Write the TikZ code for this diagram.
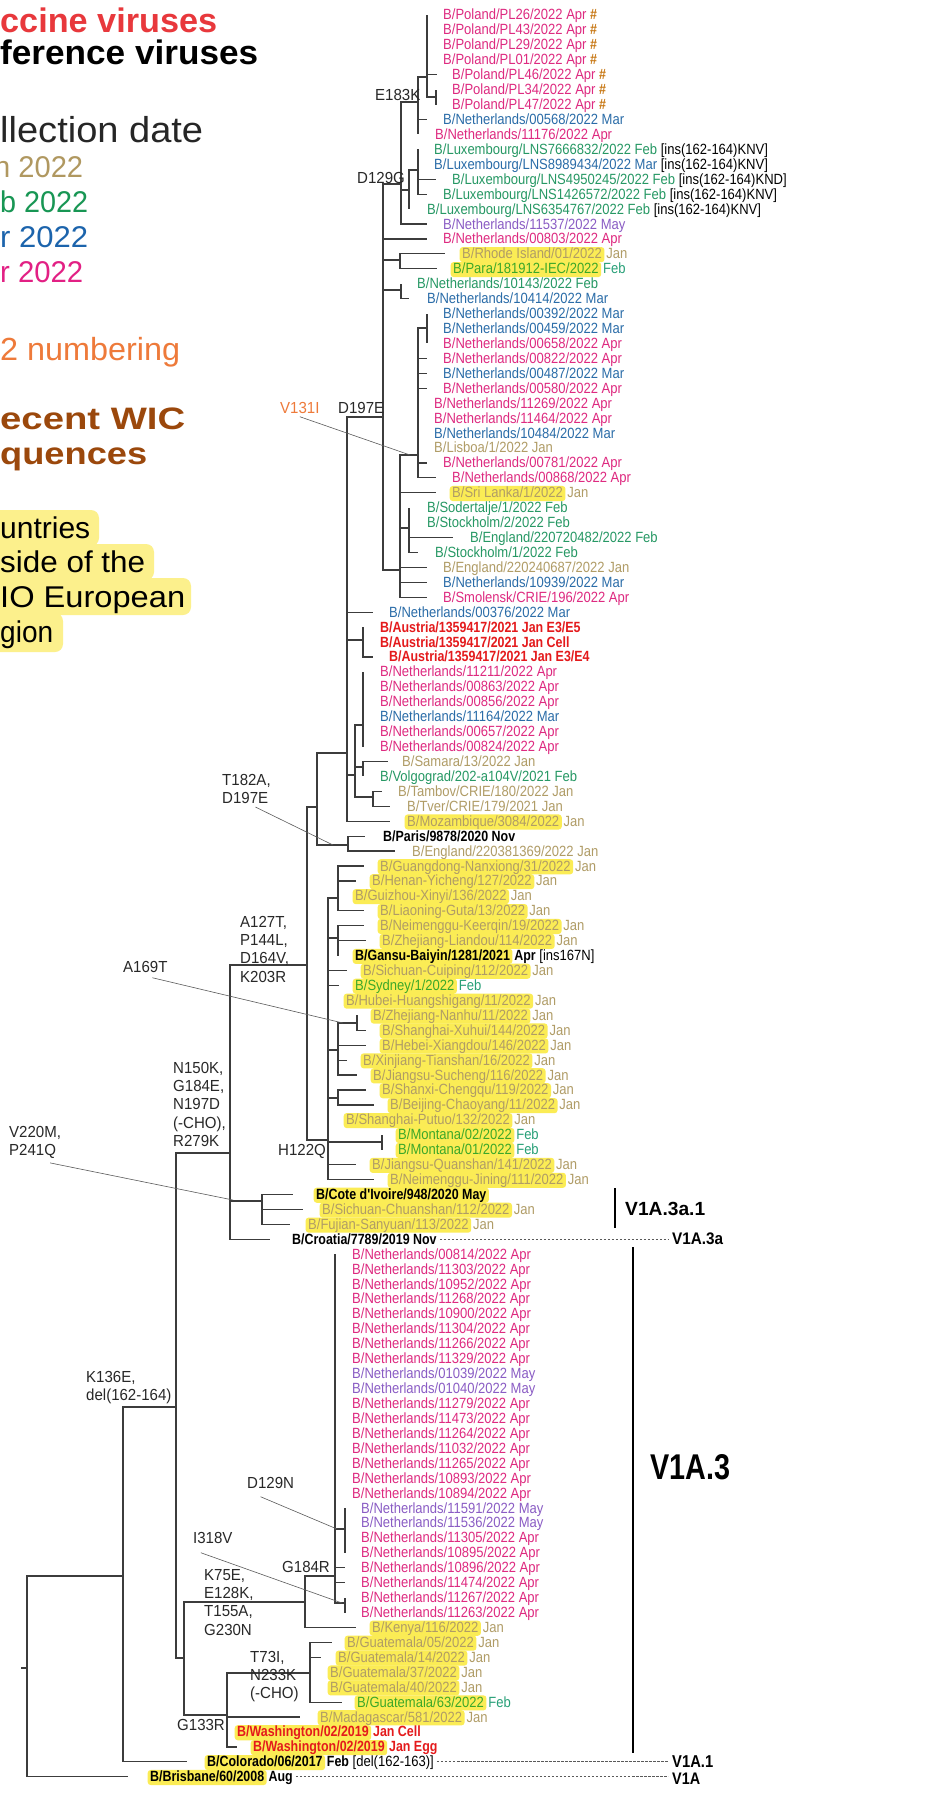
\documentclass[tikz,border=0pt]{standalone}
\usepackage{fontspec}
\usepackage{graphicx}
\setmainfont{Liberation Sans}
\newfontfamily\labfam[FakeStretch=0.88,BoldFeatures={FakeStretch=0.84}]{Liberation Sans}
\newfontfamily\mutfam[FakeStretch=0.94]{Liberation Sans}
\newcommand\lf{\labfam\fontsize{14.8}{15}\selectfont}
\newcommand\mf{\mutfam\fontsize{16}{18.3}\selectfont}
\definecolor{capr}{RGB}{222,42,128}
\definecolor{cmar}{RGB}{42,108,168}
\definecolor{cfeb}{RGB}{38,152,100}
\definecolor{cjan}{RGB}{176,156,102}
\definecolor{cmay}{RGB}{138,92,196}
\definecolor{cvac}{RGB}{228,26,28}
\definecolor{cgrn}{RGB}{60,168,40}
\definecolor{cteal}{RGB}{40,160,120}
\definecolor{hlc}{RGB}{251,236,85}
\definecolor{leghl}{RGB}{252,240,140}
\definecolor{hashc}{RGB}{200,120,20}
\definecolor{brc}{RGB}{60,60,60}
\definecolor{mutc}{RGB}{40,40,40}
\definecolor{ptrc}{RGB}{90,90,90}
\definecolor{orn}{RGB}{238,122,58}
\definecolor{legred}{RGB}{232,56,60}
\definecolor{legbrown}{RGB}{155,72,12}
\definecolor{legtan}{RGB}{176,152,96}
\definecolor{leggreen}{RGB}{24,150,84}
\definecolor{legblue}{RGB}{28,100,172}
\definecolor{legpink}{RGB}{226,32,132}
\newcommand\hash{{\bfseries\color{hashc}\#}}
\newcommand\ins[1]{{\color{black}[ins(162-164)#1]}}
% leaf: row, tip x, label x, colour, text
\newcommand\leaf[5]{%
  \coordinate (t#1) at ({#2},{15+(#1-1)*14.93});
  \node[lab,text=#4] (L#1) at ({#3},{20+(#1-1)*14.93}) {#5};}
% highlighted leaf: row, tip x, label x, name colour, name, suffix colour, suffix
\newcommand\hleaf[7]{%
  \coordinate (t#1) at ({#2},{15+(#1-1)*14.93});
  \node[hln,text=#4] (L#1) at ({#3-2.5},{20+(#1-1)*14.93}) {#5};
  \node[lab,text=#6] (S#1) at ([xshift=1.5pt]L#1.base east) {#7};}
\begin{document}
\begin{tikzpicture}[x=1pt,y=-1pt,
  branch/.style={line width=1.2pt, draw=brc},
  lab/.style={anchor=base west, inner sep=0pt, font=\lf},
  hln/.style={lab, fill=hlc, rounded corners=3pt, inner xsep=2.5pt, inner ysep=0pt, text height=11.8pt, text depth=3.3pt},
  mut/.style={anchor=north west, inner sep=0pt, font=\mf, align=left, text=mutc},
  ptr/.style={line width=0.6pt, draw=ptrc},
  dash line/.style={draw=black!65, line width=0.7pt, dash pattern=on 2.5pt off 1.5pt},
  cladebar/.style={line width=1.6pt, draw=black},
  clade/.style={anchor=base west, inner sep=0pt, text=black},
  leg/.style={anchor=base west, inner sep=0pt}]
\useasboundingbox (0,0) rectangle (946,1798);
\fill[white] (0,0) rectangle (946,1798);
\clip (0,0) rectangle (946,1798);

% ---------------- legend ----------------
\fill[leghl, rounded corners=8pt] (-12,510) rectangle (99,546);
\fill[leghl, rounded corners=8pt] (-12,544) rectangle (154,580);
\fill[leghl, rounded corners=8pt] (-12,578) rectangle (191,615);
\fill[leghl, rounded corners=8pt] (-12,613) rectangle (63,652);
\node[leg,text=legred] (lg1) at (0,33) {\resizebox{217pt}{\height}{\fontsize{34}{34}\selectfont\bfseries ccine viruses}};
\node[leg,text=black] (lg2) at (0,65) {\resizebox{258pt}{\height}{\fontsize{34}{34}\selectfont\bfseries ference viruses}};
\node[leg,text=black!85] (lg3) at (0,143) {\resizebox{203pt}{\height}{\fontsize{36}{36}\selectfont llection date}};
\node[leg,text=legtan] (lg4) at (-6,178) {\resizebox{89pt}{\height}{\fontsize{30}{30}\selectfont n 2022}};
\node[leg,text=leggreen] (lg5) at (0,212) {\resizebox{88pt}{\height}{\fontsize{30}{30}\selectfont b 2022}};
\node[leg,text=legblue] (lg6) at (0,247) {\resizebox{88pt}{\height}{\fontsize{30}{30}\selectfont r 2022}};
\node[leg,text=legpink] (lg7) at (0,282) {\resizebox{83pt}{\height}{\fontsize{30}{30}\selectfont r 2022}};
\node[leg,text=orn] (lg8) at (0,360) {\resizebox{180pt}{\height}{\fontsize{32}{32}\selectfont 2 numbering}};
\node[leg,text=legbrown] (lg9) at (0,429) {\resizebox{185pt}{\height}{\fontsize{31}{31}\selectfont\bfseries ecent WIC}};
\node[leg,text=legbrown] (lg10) at (0,464) {\resizebox{147pt}{\height}{\fontsize{31}{31}\selectfont\bfseries quences}};
\node[leg] (lg11) at (0,538) {\resizebox{90pt}{\height}{\fontsize{30}{30}\selectfont untries}};
\node[leg] (lg12) at (0,572) {\resizebox{145pt}{\height}{\fontsize{30}{30}\selectfont side of the}};
\node[leg] (lg13) at (0,607) {\resizebox{185pt}{\height}{\fontsize{30}{30}\selectfont IO European}};
\node[leg] (lg14) at (0,642) {\resizebox{53pt}{\height}{\fontsize{30}{30}\selectfont gion}};

% ---------------- leaves ----------------
\leaf{1}{427}{443}{capr}{B/Poland/PL26/2022 Apr \hash}
\leaf{2}{427}{443}{capr}{B/Poland/PL43/2022 Apr \hash}
\leaf{3}{427}{443}{capr}{B/Poland/PL29/2022 Apr \hash}
\leaf{4}{427}{443}{capr}{B/Poland/PL01/2022 Apr \hash}
\leaf{5}{437}{452}{capr}{B/Poland/PL46/2022 Apr \hash}
\leaf{6}{436}{452}{capr}{B/Poland/PL34/2022 Apr \hash}
\leaf{7}{436}{452}{capr}{B/Poland/PL47/2022 Apr \hash}
\leaf{8}{427}{443}{cmar}{B/Netherlands/00568/2022 Mar}
\leaf{9}{418}{435}{capr}{B/Netherlands/11176/2022 Apr}
\leaf{10}{418}{434}{cfeb}{B/Luxembourg/LNS7666832/2022 Feb \ins{KNV}}
\leaf{11}{418}{434}{cmar}{B/Luxembourg/LNS8989434/2022 Mar \ins{KNV}}
\leaf{12}{436}{452}{cfeb}{B/Luxembourg/LNS4950245/2022 Feb \ins{KND}}
\leaf{13}{427}{443}{cfeb}{B/Luxembourg/LNS1426572/2022 Feb \ins{KNV}}
\leaf{14}{409}{427}{cfeb}{B/Luxembourg/LNS6354767/2022 Feb \ins{KNV}}
\leaf{15}{427}{443}{cmay}{B/Netherlands/11537/2022 May}
\leaf{16}{427}{443}{capr}{B/Netherlands/00803/2022 Apr}
\hleaf{17}{445}{462}{cjan}{B/Rhode Island/01/2022}{cjan}{Jan}
\hleaf{18}{437}{453}{cgrn}{B/Para/181912-IEC/2022}{cteal}{Feb}
\leaf{19}{401}{417}{cfeb}{B/Netherlands/10143/2022 Feb}
\leaf{20}{409}{427}{cmar}{B/Netherlands/10414/2022 Mar}
\leaf{21}{427}{443}{cmar}{B/Netherlands/00392/2022 Mar}
\leaf{22}{427}{443}{cmar}{B/Netherlands/00459/2022 Mar}
\leaf{23}{427}{443}{capr}{B/Netherlands/00658/2022 Apr}
\leaf{24}{427}{443}{capr}{B/Netherlands/00822/2022 Apr}
\leaf{25}{427}{443}{cmar}{B/Netherlands/00487/2022 Mar}
\leaf{26}{427}{443}{capr}{B/Netherlands/00580/2022 Apr}
\leaf{27}{418}{434}{capr}{B/Netherlands/11269/2022 Apr}
\leaf{28}{418}{434}{capr}{B/Netherlands/11464/2022 Apr}
\leaf{29}{418}{434}{cmar}{B/Netherlands/10484/2022 Mar}
\leaf{30}{418}{434}{cjan}{B/Lisboa/1/2022 Jan}
\leaf{31}{427}{443}{capr}{B/Netherlands/00781/2022 Apr}
\leaf{32}{436}{452}{capr}{B/Netherlands/00868/2022 Apr}
\hleaf{33}{436}{452}{cjan}{B/Sri Lanka/1/2022}{cjan}{Jan}
\leaf{34}{409}{427}{cfeb}{B/Sodertalje/1/2022 Feb}
\leaf{35}{409}{427}{cfeb}{B/Stockholm/2/2022 Feb}
\leaf{36}{453}{470}{cfeb}{B/England/220720482/2022 Feb}
\leaf{37}{418}{435}{cfeb}{B/Stockholm/1/2022 Feb}
\leaf{38}{427}{443}{cjan}{B/England/220240687/2022 Jan}
\leaf{39}{427}{443}{cmar}{B/Netherlands/10939/2022 Mar}
\leaf{40}{427}{443}{capr}{B/Smolensk/CRIE/196/2022 Apr}
\leaf{41}{373}{389}{cmar}{B/Netherlands/00376/2022 Mar}
\leaf{42}{363}{380}{cvac}{\bfseries B/Austria/1359417/2021 Jan E3/E5}
\leaf{43}{363}{380}{cvac}{\bfseries B/Austria/1359417/2021 Jan Cell}
\leaf{44}{373}{389}{cvac}{\bfseries B/Austria/1359417/2021 Jan E3/E4}
\leaf{45}{363}{380}{capr}{B/Netherlands/11211/2022 Apr}
\leaf{46}{363}{380}{capr}{B/Netherlands/00863/2022 Apr}
\leaf{47}{363}{380}{capr}{B/Netherlands/00856/2022 Apr}
\leaf{48}{363}{380}{cmar}{B/Netherlands/11164/2022 Mar}
\leaf{49}{363}{380}{capr}{B/Netherlands/00657/2022 Apr}
\leaf{50}{363}{380}{capr}{B/Netherlands/00824/2022 Apr}
\leaf{51}{388}{402}{cjan}{B/Samara/13/2022 Jan}
\leaf{52}{363}{380}{cfeb}{B/Volgograd/202-a104V/2021 Feb}
\leaf{53}{382}{398}{cjan}{B/Tambov/CRIE/180/2022 Jan}
\leaf{54}{390}{407}{cjan}{B/Tver/CRIE/179/2021 Jan}
\hleaf{55}{390}{407}{cjan}{B/Mozambique/3084/2022}{cjan}{Jan}
\leaf{56}{365}{383}{black}{\bfseries B/Paris/9878/2020 Nov}
\leaf{57}{395}{412}{cjan}{B/England/220381369/2022 Jan}
\hleaf{58}{364}{380}{cjan}{B/Guangdong-Nanxiong/31/2022}{cjan}{Jan}
\hleaf{59}{356}{372}{cjan}{B/Henan-Yicheng/127/2022}{cjan}{Jan}
\hleaf{60}{338}{355}{cjan}{B/Guizhou-Xinyi/136/2022}{cjan}{Jan}
\hleaf{61}{364}{380}{cjan}{B/Liaoning-Guta/13/2022}{cjan}{Jan}
\hleaf{62}{364}{380}{cjan}{B/Neimenggu-Keerqin/19/2022}{cjan}{Jan}
\hleaf{63}{366}{382}{cjan}{B/Zhejiang-Liandou/114/2022}{cjan}{Jan}
\hleaf{64}{338}{355}{black}{\bfseries B/Gansu-Baiyin/1281/2021}{black}{\textbf{Apr} [ins167N]}
\hleaf{65}{347}{363}{cjan}{B/Sichuan-Cuiping/112/2022}{cjan}{Jan}
\hleaf{66}{339}{355}{cgrn}{B/Sydney/1/2022}{cteal}{Feb}
\hleaf{67}{328}{346}{cjan}{B/Hubei-Huangshigang/11/2022}{cjan}{Jan}
\hleaf{68}{357}{373}{cjan}{B/Zhejiang-Nanhu/11/2022}{cjan}{Jan}
\hleaf{69}{366}{382}{cjan}{B/Shanghai-Xuhui/144/2022}{cjan}{Jan}
\hleaf{70}{366}{382}{cjan}{B/Hebei-Xiangdou/146/2022}{cjan}{Jan}
\hleaf{71}{347}{363}{cjan}{B/Xinjiang-Tianshan/16/2022}{cjan}{Jan}
\hleaf{72}{357}{373}{cjan}{B/Jiangsu-Sucheng/116/2022}{cjan}{Jan}
\hleaf{73}{366}{382}{cjan}{B/Shanxi-Chengqu/119/2022}{cjan}{Jan}
\hleaf{74}{374}{390}{cjan}{B/Beijing-Chaoyang/11/2022}{cjan}{Jan}
\hleaf{75}{328}{346}{cjan}{B/Shanghai-Putuo/132/2022}{cjan}{Jan}
\hleaf{76}{382}{398}{cgrn}{B/Montana/02/2022}{cteal}{Feb}
\hleaf{77}{382}{398}{cgrn}{B/Montana/01/2022}{cteal}{Feb}
\hleaf{78}{356}{372}{cjan}{B/Jiangsu-Quanshan/141/2022}{cjan}{Jan}
\hleaf{79}{374}{390}{cjan}{B/Neimenggu-Jining/111/2022}{cjan}{Jan}
\hleaf{80}{293}{316}{black}{\bfseries B/Cote d'Ivoire/948/2020 May}{black}{}
\hleaf{81}{303}{322}{cjan}{B/Sichuan-Chuanshan/112/2022}{cjan}{Jan}
\hleaf{82}{290}{308}{cjan}{B/Fujian-Sanyuan/113/2022}{cjan}{Jan}
\leaf{83}{270}{292}{black}{\bfseries B/Croatia/7789/2019 Nov}
\leaf{84}{335}{352}{capr}{B/Netherlands/00814/2022 Apr}
\leaf{85}{335}{352}{capr}{B/Netherlands/11303/2022 Apr}
\leaf{86}{335}{352}{capr}{B/Netherlands/10952/2022 Apr}
\leaf{87}{335}{352}{capr}{B/Netherlands/11268/2022 Apr}
\leaf{88}{335}{352}{capr}{B/Netherlands/10900/2022 Apr}
\leaf{89}{335}{352}{capr}{B/Netherlands/11304/2022 Apr}
\leaf{90}{335}{352}{capr}{B/Netherlands/11266/2022 Apr}
\leaf{91}{335}{352}{capr}{B/Netherlands/11329/2022 Apr}
\leaf{92}{335}{352}{cmay}{B/Netherlands/01039/2022 May}
\leaf{93}{335}{352}{cmay}{B/Netherlands/01040/2022 May}
\leaf{94}{335}{352}{capr}{B/Netherlands/11279/2022 Apr}
\leaf{95}{335}{352}{capr}{B/Netherlands/11473/2022 Apr}
\leaf{96}{335}{352}{capr}{B/Netherlands/11264/2022 Apr}
\leaf{97}{335}{352}{capr}{B/Netherlands/11032/2022 Apr}
\leaf{98}{335}{352}{capr}{B/Netherlands/11265/2022 Apr}
\leaf{99}{335}{352}{capr}{B/Netherlands/10893/2022 Apr}
\leaf{100}{335}{352}{capr}{B/Netherlands/10894/2022 Apr}
\leaf{101}{345}{361}{cmay}{B/Netherlands/11591/2022 May}
\leaf{102}{345}{361}{cmay}{B/Netherlands/11536/2022 May}
\leaf{103}{345}{361}{capr}{B/Netherlands/11305/2022 Apr}
\leaf{104}{345}{361}{capr}{B/Netherlands/10895/2022 Apr}
\leaf{105}{345}{361}{capr}{B/Netherlands/10896/2022 Apr}
\leaf{106}{345}{361}{capr}{B/Netherlands/11474/2022 Apr}
\leaf{107}{345}{361}{capr}{B/Netherlands/11267/2022 Apr}
\leaf{108}{345}{361}{capr}{B/Netherlands/11263/2022 Apr}
\hleaf{109}{356}{372}{cjan}{B/Kenya/116/2022}{cjan}{Jan}
\hleaf{110}{332}{347}{cjan}{B/Guatemala/05/2022}{cjan}{Jan}
\hleaf{111}{321}{338}{cjan}{B/Guatemala/14/2022}{cjan}{Jan}
\hleaf{112}{310}{330}{cjan}{B/Guatemala/37/2022}{cjan}{Jan}
\hleaf{113}{310}{330}{cjan}{B/Guatemala/40/2022}{cjan}{Jan}
\hleaf{114}{342}{357}{cgrn}{B/Guatemala/63/2022}{cteal}{Feb}
\hleaf{115}{300}{320}{cjan}{B/Madagascar/581/2022}{cjan}{Jan}
\hleaf{116}{227}{237}{cvac}{\bfseries B/Washington/02/2019}{cvac}{\bfseries Jan Cell}
\hleaf{117}{237}{253}{cvac}{\bfseries B/Washington/02/2019}{cvac}{\bfseries Jan Egg}
\hleaf{118}{187}{207}{black}{\bfseries B/Colorado/06/2017}{black}{\textbf{Feb} [del(162-163)]}
\hleaf{119}{128}{150}{black}{\bfseries B/Brisbane/60/2008}{black}{\bfseries Aug}

% ---------------- internal nodes ----------------
\coordinate (nP1) at (427,77);
\coordinate (nP2) at (436,97);
\coordinate (nE) at (418,102);
\coordinate (nL2) at (418,170);
\coordinate (nL1) at (409,190);
\coordinate (nG) at (401,184);
\coordinate (nRP) at (400,260);
\coordinate (nNL) at (401,290);
\coordinate (nT1) at (427,328);
\coordinate (nT) at (418,455);
\coordinate (nU) at (409,528);
\coordinate (nS) at (400,570);
\coordinate (nD) at (383,417);
\coordinate (nA) at (363,640);
\coordinate (nK1) at (363,725);
\coordinate (nK2) at (363,767);
\coordinate (nK3) at (373,797);
\coordinate (nK) at (355,775);
\coordinate (nM) at (347,753);
\coordinate (nPA) at (348,845);
\coordinate (nQ) at (317,807);
\coordinate (nC1) at (338,898);
\coordinate (nC2) at (338,938);
\coordinate (nC3a) at (357,1023);
\coordinate (nC3) at (338,1050);
\coordinate (nC4) at (338,1098);
\coordinate (nC5) at (382,1142);
\coordinate (nC) at (328,1140);
\coordinate (nH) at (307,965);
\coordinate (nCI) at (262,1201);
\coordinate (nN) at (230,1153);
\coordinate (nNL3a) at (345,1529);
\coordinate (nNL3b) at (345,1603);
\coordinate (nNL3) at (335,1576);
\coordinate (nB305) at (305,1602);
\coordinate (nG310) at (310,1673);
\coordinate (nB227) at (227,1715);
\coordinate (nB184) at (184,1658);
\coordinate (nK136) at (176,1407);
\coordinate (nN123) at (123,1576);
\coordinate (nR) at (27,1668);
\coordinate (nRs) at (21,1668);

% ---------------- branches ----------------
\foreach \c in {t1,t2,t3,t4,t5,nP2} \draw[branch] (nP1) |- (\c);
\foreach \c in {t6,t7} \draw[branch] (nP2) |- (\c);
\foreach \c in {nP1,t8,t9} \draw[branch] (nE) |- (\c);
\foreach \c in {t10,t11,t12,t13} \draw[branch] (nL2) |- (\c);
\foreach \c in {nL2,t14} \draw[branch] (nL1) |- (\c);
\foreach \c in {nE,nL1,t15} \draw[branch] (nG) |- (\c);
\foreach \c in {t17,t18} \draw[branch] (nRP) |- (\c);
\foreach \c in {t19,t20} \draw[branch] (nNL) |- (\c);
\foreach \c in {t21,t22,t23} \draw[branch] (nT1) |- (\c);
\draw[branch] (nT) |- (nT1);
\foreach \i in {24,...,32} \draw[branch] (nT) |- (t\i);
\foreach \c in {t34,t35,t36,t37} \draw[branch] (nU) |- (\c);
\foreach \c in {nT,t33,nU,t38,t39,t40} \draw[branch] (nS) |- (\c);
\foreach \c in {nG,t16,nRP,nNL,nS} \draw[branch] (nD) |- (\c);
\foreach \c in {t42,t43,t44} \draw[branch] (nA) |- (\c);
\foreach \i in {45,...,50} \draw[branch] (nK1) |- (t\i);
\foreach \c in {t51,t52} \draw[branch] (nK2) |- (\c);
\foreach \c in {t53,t54} \draw[branch] (nK3) |- (\c);
\foreach \c in {nK1,nK2,nK3} \draw[branch] (nK) |- (\c);
\foreach \c in {nD,t41,nA,nK,t55} \draw[branch] (nM) |- (\c);
\foreach \c in {t56,t57} \draw[branch] (nPA) |- (\c);
\foreach \c in {nM,nPA} \draw[branch] (nQ) |- (\c);
\foreach \i in {58,...,61} \draw[branch] (nC1) |- (t\i);
\foreach \i in {62,...,64} \draw[branch] (nC2) |- (t\i);
\foreach \c in {t68,t69} \draw[branch] (nC3a) |- (\c);
\foreach \c in {nC3a,t70,t71,t72} \draw[branch] (nC3) |- (\c);
\foreach \c in {t73,t74} \draw[branch] (nC4) |- (\c);
\foreach \c in {t76,t77} \draw[branch] (nC5) |- (\c);
\foreach \c in {nC1,nC2,t65,t66,t67,nC3,nC4,t75,nC5,t78,t79} \draw[branch] (nC) |- (\c);
\foreach \c in {nQ,nC} \draw[branch] (nH) |- (\c);
\foreach \c in {t80,t81,t82} \draw[branch] (nCI) |- (\c);
\foreach \c in {nH,nCI,t83} \draw[branch] (nN) |- (\c);
\foreach \i in {101,...,104} \draw[branch] (nNL3a) |- (t\i);
\foreach \c in {t107,t108} \draw[branch] (nNL3b) |- (\c);
\foreach \i in {84,...,100} \draw[branch] (nNL3) |- (t\i);
\foreach \c in {nNL3a,t105,t106,nNL3b} \draw[branch] (nNL3) |- (\c);
\foreach \c in {nNL3,t109} \draw[branch] (nB305) |- (\c);
\foreach \i in {110,...,114} \draw[branch] (nG310) |- (t\i);
\foreach \c in {nG310,t115,t116,t117} \draw[branch] (nB227) |- (\c);
\foreach \c in {nB305,nB227} \draw[branch] (nB184) |- (\c);
\foreach \c in {nN,nB184} \draw[branch] (nK136) |- (\c);
\foreach \c in {nK136,t118} \draw[branch] (nN123) |- (\c);
\foreach \c in {nN123,t119} \draw[branch] (nR) |- (\c);
\draw[branch] (nR) -- (nRs);

% ---------------- mutation labels ----------------
\node[mut] (mE183K) at (375,89) {E183K};
\node[mut] (mD129G) at (357,172) {D129G};
\node[mut] (mD197E) at (338,402) {D197E};
\node[mut,text=orn] (mV131I) at (280,402) {V131I};
\node[mut] (mT182A) at (222,774) {T182A,\\D197E};
\node[mut] (mA127T) at (240,916) {A127T,\\P144L,\\D164V,\\K203R};
\node[mut] (mA169T) at (123,961) {A169T};
\node[mut] (mN150K) at (173,1062) {N150K,\\G184E,\\N197D\\(-CHO),\\R279K};
\node[mut] (mV220M) at (9,1126) {V220M,\\P241Q};
\node[mut] (mH122Q) at (278,1144) {H122Q};
\node[mut] (mK136E) at (86,1371) {K136E,\\del(162-164)};
\node[mut] (mD129N) at (247,1477) {D129N};
\node[mut] (mI318V) at (193,1532) {I318V};
\node[mut] (mG184R) at (282,1561) {G184R};
\node[mut] (mK75E) at (204,1569) {K75E,\\E128K,\\T155A,\\G230N};
\node[mut] (mT73I) at (250,1651) {T73I,\\N233K\\(-CHO)};
\node[mut] (mG133R) at (177,1719) {G133R};

% pointers
\coordinate (pV131I) at (410,455);
\coordinate (pT182A) at (333,845);
\coordinate (pA169T) at (343,1023);
\coordinate (pV220M) at (233,1200);
\coordinate (pD129N) at (337,1529);
\coordinate (pI318V) at (342,1603);
\draw[ptr] ([yshift=-3pt]mV131I.south) -- (pV131I);
\draw[ptr] ([xshift=9pt,yshift=-3pt]mT182A.south) -- (pT182A);
\draw[ptr] ([xshift=7pt,yshift=-5pt]mA169T.south) -- (pA169T);
\draw[ptr] ([xshift=15pt,yshift=-4pt]mV220M.south) -- (pV220M);
\draw[ptr] ([xshift=-10pt,yshift=-8pt]mD129N.south) -- (pD129N);
\draw[ptr] ([xshift=-12pt,yshift=-9pt]mI318V.south) -- (pI318V);

% ---------------- clade annotations ----------------
\coordinate (b1t) at (615,1188);
\coordinate (b1b) at (615,1228);
\draw[cladebar] (b1t) -- (b1b);
\coordinate (b2t) at (633,1247);
\coordinate (b2b) at (633,1753);
\draw[cladebar, line width=1.3pt] (b2t) -- (b2b);
\node[clade] (c3a1) at (625,1215) {\resizebox{80pt}{13.3pt}{\bfseries V1A.3a.1}};
\node[clade] (c3a) at (672,1244) {\resizebox{51pt}{11.7pt}{\bfseries V1A.3a}};
\node[clade] (c3) at (650,1479) {\resizebox{80pt}{25pt}{\bfseries V1A.3}};
\node[clade] (c1) at (672,1767) {\resizebox{41pt}{11.8pt}{\bfseries V1A.1}};
\node[clade] (c0) at (672,1784) {\resizebox{28pt}{11.5pt}{\bfseries V1A}};
\coordinate (d83) at (668,{15+82*14.93});
\coordinate (d118) at (668,{15+117*14.93});
\coordinate (d119) at (668,{15+118*14.93});
\draw[dash line] (L83.east |- d83) ++(3,0) -- (d83);
\draw[dash line] (S118.east |- d118) ++(3,0) -- (d118);
\draw[dash line] (S119.east |- d119) ++(3,0) -- (d119);
\end{tikzpicture}
\end{document}
